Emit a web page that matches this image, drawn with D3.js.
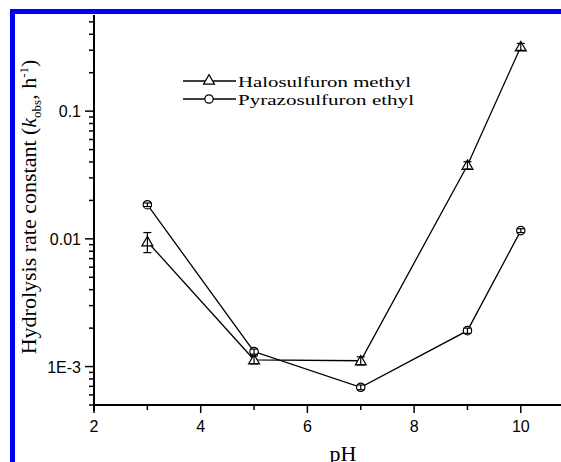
<!DOCTYPE html>
<html>
<head>
<meta charset="utf-8">
<script src="https://cdn.jsdelivr.net/npm/d3@7"></script>
<style>
  html, body { margin: 0; padding: 0; background: #fff; overflow: hidden; }
  svg { display: block; }
</style>
</head>
<body>
<svg id="chart"></svg>
<script>
// pH values and hydrolysis rate constants
const phValues = [3, 5, 7, 9, 10];
const haloValues = [0.0095, 0.00113, 0.00111, 0.0377, 0.319];
const haloErrors = [0.0017, 0.00008, 0.00008, 0.0025, 0.02];
const pyraValues = [0.0185, 0.00131, 0.000688, 0.00191, 0.0116];
const pyraErrors = [0.0006, 0.00006, 0.00003, 0.00009, 0.0004];
const seriesNames = ['Halosulfuron methyl', 'Pyrazosulfuron ethyl'];
const xTicks = [2, 4, 6, 8, 10];
const yTicks = [0.001, 0.01, 0.1];
const yTickLabels = ['1E-3', '0.01', '0.1'];

const W = 561, H = 462;
const svg = d3.select('#chart').attr('width', W).attr('height', H);

// plot area
const plotLeft = 94, plotBottom = 405, plotTop = 15;
const x = d3.scaleLinear().domain([2, 11]).range([plotLeft, plotLeft + 9 * 53.35]);
const y = d3.scaleLog().domain([5e-4, 0.566]).range([plotBottom, plotTop]);

// blue frame
svg.append('rect').attr('x', 10).attr('y', 9).attr('width', W - 10).attr('height', 5).attr('fill', '#0000ff');
svg.append('rect').attr('x', 10).attr('y', 9).attr('width', 5).attr('height', H - 9).attr('fill', '#0000ff');

const tickFont = 'Arial, "Liberation Sans", sans-serif';
const serif = '"Times New Roman", "Liberation Serif", serif';

// x axis
const xAxis = svg.append('g').attr('transform', `translate(0,${plotBottom})`);
xAxis.append('line').attr('x1', plotLeft - 1).attr('x2', W).attr('y1', 0).attr('y2', 0)
  .attr('stroke', '#000').attr('stroke-width', 2);
d3.range(2, 11.5, 1).forEach(v => {
  const major = v % 2 === 0;
  xAxis.append('line').attr('x1', x(v)).attr('x2', x(v)).attr('y1', 0).attr('y2', major ? 8 : 5)
    .attr('stroke', '#000').attr('stroke-width', 1.5);
});
xAxis.selectAll('.xl').data(xTicks).enter().append('text')
  .attr('x', d => x(d)).attr('y', 27).attr('text-anchor', 'middle')
  .attr('font-family', tickFont).attr('font-size', 16).text(d => d);

// y axis
const yAxis = svg.append('g');
yAxis.append('line').attr('x1', plotLeft).attr('x2', plotLeft).attr('y1', plotTop).attr('y2', plotBottom + 6)
  .attr('stroke', '#000').attr('stroke-width', 2);
const minor = [];
[1e-4, 1e-3, 1e-2, 1e-1].forEach(d => { for (let k = 1; k < 10; k++) minor.push(d * k); });
minor.filter(v => v >= 5e-4 && v <= 0.566).forEach(v => {
  const major = yTicks.some(t => Math.abs(t - v) / t < 1e-6);
  yAxis.append('line').attr('x1', plotLeft - (major ? 9 : 5)).attr('x2', plotLeft)
    .attr('y1', y(v)).attr('y2', y(v)).attr('stroke', '#000').attr('stroke-width', 1.5);
});
yAxis.selectAll('.yl').data(yTicks).enter().append('text')
  .attr('x', plotLeft - 13).attr('y', d => y(d) + 6).attr('text-anchor', 'end')
  .attr('font-family', tickFont).attr('font-size', 16)
  .text((d, i) => yTickLabels[i]);

// axis titles
svg.append('text').attr('x', 343).attr('y', 461).attr('text-anchor', 'middle')
  .attr('font-family', serif).attr('font-size', 22).text('pH');
const yt = svg.append('text').attr('transform', 'translate(36,207) rotate(-90)')
  .attr('text-anchor', 'middle').attr('font-family', serif).attr('font-size', 22);
yt.append('tspan').text('Hydrolysis rate constant (');
yt.append('tspan').attr('font-style', 'italic').text('k');
yt.append('tspan').attr('font-size', 13).attr('dy', 5).text('obs');
yt.append('tspan').attr('dy', -5).text(', h');
yt.append('tspan').attr('font-size', 13).attr('dy', -8).text('-1');
yt.append('tspan').attr('dy', 8).text(')');

// series
const line = d3.line().x(d => x(d[0])).y(d => y(d[1]));
const halo = phValues.map((p, i) => [p, haloValues[i], haloErrors[i]]);
const pyra = phValues.map((p, i) => [p, pyraValues[i], pyraErrors[i]]);

[halo, pyra].forEach(data => {
  svg.append('path').datum(data).attr('d', line)
    .attr('fill', 'none').attr('stroke', '#000').attr('stroke-width', 1.3);
});

const tri = d3.symbol().type(d3.symbolTriangle).size(52);
function drawTri(g, cx, cy) {
  g.append('path').attr('d', tri()).attr('transform', `translate(${cx},${cy + 1})`)
    .attr('fill', '#fff').attr('stroke', '#000').attr('stroke-width', 1.2);
}
function drawCirc(g, cx, cy) {
  g.append('circle').attr('cx', cx).attr('cy', cy).attr('r', 4.2)
    .attr('fill', '#fff').attr('stroke', '#000').attr('stroke-width', 1.2);
}
function drawErr(g, d) {
  const cx = x(d[0]), y1 = y(d[1] + d[2]), y2 = y(d[1] - d[2]);
  g.append('line').attr('x1', cx).attr('x2', cx).attr('y1', y1).attr('y2', y2)
    .attr('stroke', '#000').attr('stroke-width', 1.2);
  [y1, y2].forEach(yy => g.append('line').attr('x1', cx - 4).attr('x2', cx + 4)
    .attr('y1', yy).attr('y2', yy).attr('stroke', '#000').attr('stroke-width', 1.2));
}

const mk = svg.append('g');
halo.forEach(d => drawTri(mk, x(d[0]), y(d[1])));
pyra.forEach(d => drawCirc(mk, x(d[0]), y(d[1])));
halo.forEach(d => drawErr(mk, d));
pyra.forEach(d => drawErr(mk, d));

// legend
const legendWidths = [173, 176];
const lg = svg.append('g');
[0, 1].forEach(i => {
  const ly = 81 + i * 18;
  lg.append('line').attr('x1', 183).attr('x2', 236).attr('y1', ly).attr('y2', ly)
    .attr('stroke', '#000').attr('stroke-width', 1.3);
  if (i === 0) drawTri(lg, 209, ly - 1); else drawCirc(lg, 209, ly);
  lg.append('text').attr('x', 238).attr('y', ly + 6).attr('font-family', serif)
    .attr('font-size', 15.5).attr('textLength', legendWidths[i])
    .attr('lengthAdjust', 'spacingAndGlyphs').text(seriesNames[i]);
});
</script>
</body>
</html>
